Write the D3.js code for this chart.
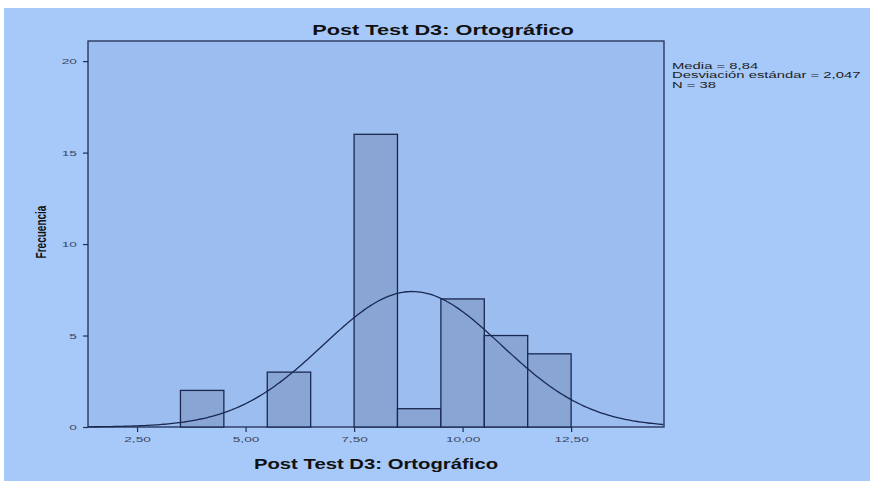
<!DOCTYPE html>
<html>
<head>
<meta charset="utf-8">
<script src="https://cdn.jsdelivr.net/npm/d3@7"></script>
<style>
  html, body { margin: 0; padding: 0; background: #fff; }
  svg { display: block; }
</style>
</head>
<body>
<script>
// histogram bins (width 1) and counts
const binStarts = [3.5, 5.5, 7.5, 8.5, 9.5, 10.5, 11.5];
const counts = [2, 3, 16, 1, 7, 5, 4];
const binWidth = 1;

const xTicks = [2.5, 5, 7.5, 10, 12.5];
const yTicks = [0, 5, 10, 15, 20];

const mean = 8.84;
const sd = 2.047;
const n = 38;

const statLines = ["Media = 8,84", "Desviación estándar = 2,047", "N = 38"];

const width = 870;
const height = 481;
const font = "'Liberation Sans', Arial, sans-serif";
const sx = 1.45; // the original chart text is stretched sideways

const svg = d3.select("body")
  .append("svg")
  .attr("width", width)
  .attr("height", height);

// outer background (white strip at top and left)
svg.append("rect")
  .attr("x", 4).attr("y", 8)
  .attr("width", width - 4).attr("height", height - 8)
  .attr("fill", "#a7c9f9");

const x = d3.scaleLinear().domain([1.37, 14.64]).range([88, 664]);
const y = d3.scaleLinear().domain([0, 21.1]).range([427, 41]);

// plot area
svg.append("rect")
  .attr("x", x.range()[0])
  .attr("y", y.range()[1])
  .attr("width", x.range()[1] - x.range()[0])
  .attr("height", y.range()[0] - y.range()[1])
  .attr("fill", "#9cbdef")
  .attr("stroke", "#1f2f55")
  .attr("stroke-width", 1.3);

// bars
svg.append("g")
  .selectAll("rect")
  .data(binStarts.map((b, i) => ({ b, c: counts[i] })))
  .join("rect")
  .attr("x", (d) => x(d.b))
  .attr("y", (d) => y(d.c))
  .attr("width", (d) => x(d.b + binWidth) - x(d.b))
  .attr("height", (d) => y(0) - y(d.c))
  .attr("fill", "#88a5d3")
  .attr("stroke", "#1a2850")
  .attr("stroke-width", 1.3);

// normal curve
const pdf = (v) => (n * binWidth) / (sd * Math.sqrt(2 * Math.PI)) *
  Math.exp(-0.5 * ((v - mean) / sd) ** 2);
const xs = d3.range(x.domain()[0], x.domain()[1] + 0.001, 0.05);
svg.append("path")
  .datum(xs)
  .attr("fill", "none")
  .attr("stroke", "#1a2850")
  .attr("stroke-width", 1.3)
  .attr("d", d3.line().x((d) => x(d)).y((d) => y(pdf(d))));

// axes
const fmt = (d) => d3.format(".2f")(d).replace(".", ",");
const tickScale = 1.72;

const xAxis = svg.append("g")
  .attr("transform", `translate(0,${y(0)})`)
  .call(d3.axisBottom(x).tickValues(xTicks).tickFormat(fmt).tickSize(5).tickSizeOuter(0));
xAxis.select(".domain").remove();

const yAxis = svg.append("g")
  .attr("transform", `translate(${x.range()[0]},0)`)
  .call(d3.axisLeft(y).tickValues(yTicks).tickSize(5).tickSizeOuter(0));
yAxis.select(".domain").remove();

[xAxis, yAxis].forEach((g) => {
  g.selectAll(".tick line").attr("stroke", "#1f2f55").attr("stroke-width", 1.2);
  g.selectAll(".tick text")
    .attr("fill", "#3a4560")
    .attr("transform", `scale(${tickScale},1)`)
    .style("font-family", font)
    .style("font-size", "8px");
});
xAxis.selectAll(".tick text").attr("y", 9).attr("dy", "0.71em");
yAxis.selectAll(".tick text").attr("x", -11 / tickScale);

// title
svg.append("text")
  .attr("transform", `translate(443,35) scale(${sx},1)`)
  .attr("text-anchor", "middle")
  .style("font-family", font)
  .style("font-weight", "bold")
  .style("font-size", "15px")
  .attr("fill", "#111")
  .text("Post Test D3: Ortográfico");

// x label
svg.append("text")
  .attr("transform", `translate(376,469) scale(${sx},1)`)
  .attr("text-anchor", "middle")
  .style("font-family", font)
  .style("font-weight", "bold")
  .style("font-size", "14px")
  .attr("fill", "#111")
  .text("Post Test D3: Ortográfico");

// y label
svg.append("text")
  .attr("transform", `translate(46,232) scale(1.4,1) rotate(-90)`)
  .attr("text-anchor", "middle")
  .style("font-family", font)
  .style("font-weight", "bold")
  .style("font-size", "10px")
  .attr("fill", "#111")
  .text("Frecuencia");

// stats text
svg.append("g")
  .selectAll("text")
  .data(statLines)
  .join("text")
  .attr("transform", (d, i) => `translate(672,${69 + i * 9.3}) scale(1.65,1)`)
  .style("font-family", font)
  .style("font-size", "9px")
  .attr("fill", "#222")
  .text((d) => d);
</script>
</body>
</html>
